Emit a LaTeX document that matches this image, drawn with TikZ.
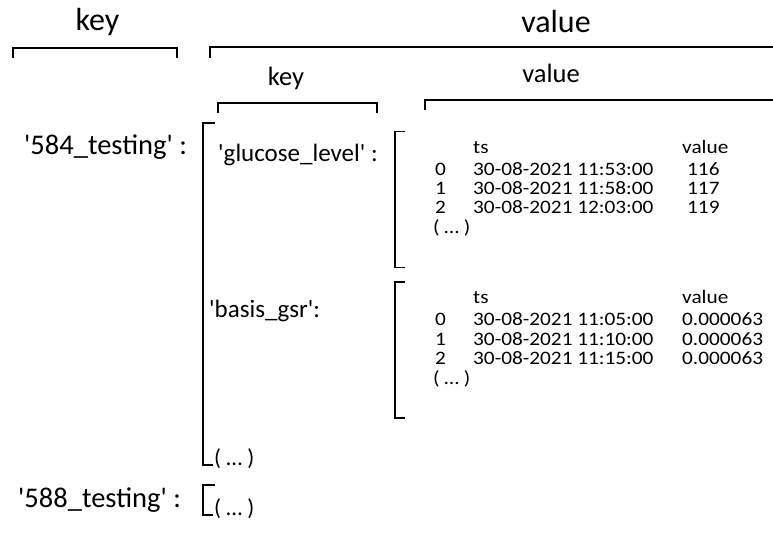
\documentclass[tikz,border=0pt]{standalone}
\usepackage{fontspec}
\setmainfont{Carlito}[Ligatures=TeXOff]
\newfontfamily\tabfont{Carlito}[Ligatures=TeXOff,FakeStretch=1.12]

\tikzset{
  x=1pt, y=-1pt,
  toplbl/.style={inner sep=0pt, anchor=base, font=\fontsize{32}{38}\selectfont},
  sublbl/.style={inner sep=0pt, anchor=base, font=\fontsize{26.5}{32}\selectfont},
  outerkey/.style={inner sep=0pt, anchor=base west, font=\fontsize{28.5}{34}\selectfont},
  innerkey/.style={inner sep=0pt, anchor=base west, font=\fontsize{25}{30}\selectfont},
  more/.style={inner sep=0pt, anchor=base west, font=\fontsize{23}{28}\selectfont},
  cell/.style={inner sep=0pt, anchor=base west, font=\tabfont\fontsize{19}{23}\selectfont},
  brk/.style={line width=1.7pt, line join=miter}
}

% one data frame: bracket with top edge at #2, rows below it
\newcommand{\frametable}[6]{%
  \draw[brk] (405,#2) -- (395,#2) -- (395,#2+136) -- (405,#2+136);
  \node[cell] (#1h1) at (473,#2+22) {ts};
  \node[cell] (#1h2) at (682,#2+22) {value};
  \node[cell] (#1i0) at (435,#2+44) {0};
  \node[cell] (#1i1) at (435,#2+63) {1};
  \node[cell] (#1i2) at (435,#2+82) {2};
  \node[cell] (#1d0) at (473,#2+44) {30-08-2021 #3};
  \node[cell] (#1d1) at (473,#2+63) {30-08-2021 #4};
  \node[cell] (#1d2) at (473,#2+82) {30-08-2021 #5};
  \node[cell] (#1e)  at (433,#2+102) {( … )};
  #6
}

\begin{document}
\begin{tikzpicture}
\useasboundingbox (0,0) rectangle (773,534);

% column headings
\node[toplbl] (k1) at (97.5,31) {key};
\node[toplbl] (v1) at (556,33) {value};
\draw[brk] (13,58) -- (13,48) -- (177,48) -- (177,58);
\draw[brk] (210,58) -- (210,47) -- (775,47);

\node[sublbl] (k2) at (286,86) {key};
\node[sublbl] (v2) at (551,83) {value};
\draw[brk] (218,113) -- (218,103) -- (377,103) -- (377,113);
\draw[brk] (425,110) -- (425,100) -- (775,100);

% first outer entry
\node[outerkey] (t584) at (24,155) {'584\_testing' :};
\draw[brk] (215,123) -- (203,123) -- (203,465) -- (213,465);
\node[more] (m584) at (214,465) {( … )};

\node[innerkey] (glc) at (218,162) {'glucose\_level' :};
\frametable{a}{131.5}{11:53:00}{11:58:00}{12:03:00}{%
  \node[cell] (av0) at (687,131.5+44) {116};
  \node[cell] (av1) at (687,131.5+63) {117};
  \node[cell] (av2) at (687,131.5+82) {119};}

\node[innerkey] (gsr) at (209,317) {'basis\_gsr':};
\frametable{b}{282}{11:05:00}{11:10:00}{11:15:00}{%
  \node[cell] (bv0) at (682,282+44) {0.000063};
  \node[cell] (bv1) at (682,282+63) {0.000063};
  \node[cell] (bv2) at (682,282+82) {0.000063};}

% second outer entry
\node[outerkey] (t588) at (18,507) {'588\_testing' :};
\draw[brk] (215,485) -- (203,485) -- (203,515) -- (213,515);
\node[more] (m588) at (214,515) {( … )};
\end{tikzpicture}
\end{document}
